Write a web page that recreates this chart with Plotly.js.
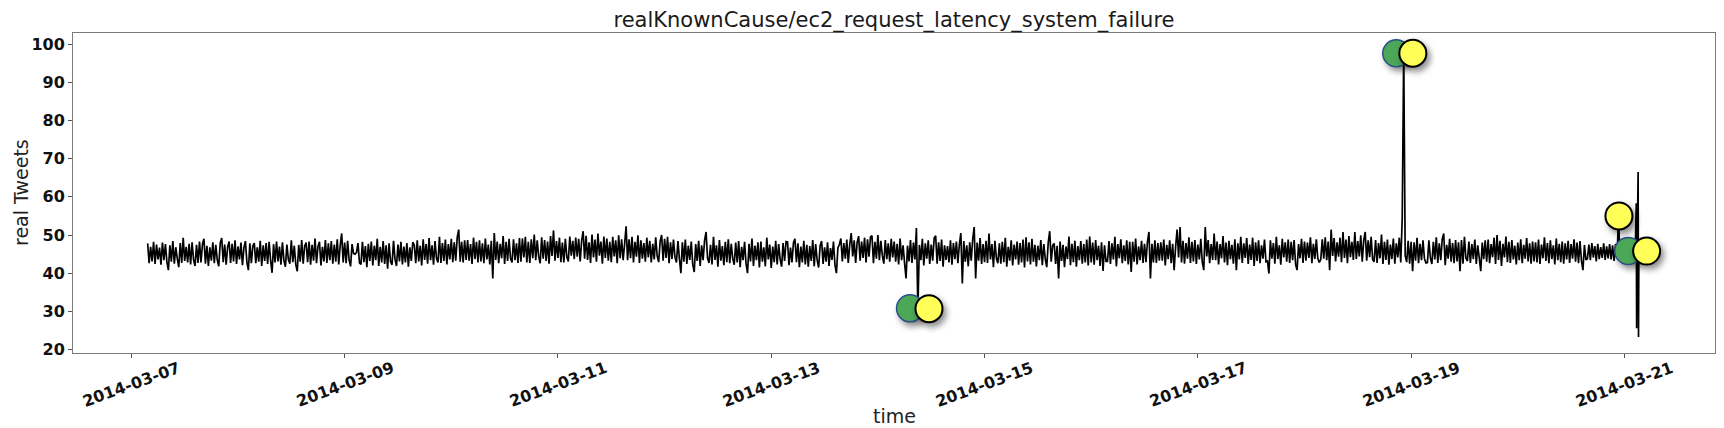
<!DOCTYPE html>
<html>
<head>
<meta charset="utf-8">
<script src="https://cdn.plot.ly/plotly-3.0.1.min.js"></script>
<style>
  html, body { margin: 0; padding: 0; background: #fff; }
  #chart { width: 1724px; height: 428px; }
</style>
</head>
<body>
<div id="chart"></div>
<script>
// ---- data ----
const chartTitle = "realKnownCause/ec2_request_latency_system_failure";
const xTitle = "time";
const yTitle = "real Tweets";

// x tick positions and their labels
const xTickDates  = ["2014-03-07","2014-03-09","2014-03-11","2014-03-13","2014-03-15","2014-03-17","2014-03-19","2014-03-21"];
const xTickLabels = ["2014-03-07","2014-03-09","2014-03-11","2014-03-13","2014-03-15","2014-03-17","2014-03-19","2014-03-21"];

// regular sampling grid of the series (20-minute steps)
const gridStart = "2014-03-07 03:41:00";
const gridStepMinutes = 20;

// latency values, one row per 12 hours
const latency = [
  47.8,42.6,46.9,43.1,48.2,42.4,47.5,43.6,46.7,42.2,48.0,43.4,47.6,42.9,40.8,47.3,43.0,48.4,42.5,46.8,43.8,41.6,47.9,42.7,49.3,43.2,46.9,42.8,47.7,42.3,48.1,43.5,41.9,47.4,42.7,48.3,
  42.8,47.6,49.0,42.5,47.2,41.9,46.8,43.3,48.1,42.6,47.4,43.5,41.8,47.9,49.2,42.9,47.5,42.2,46.9,48.3,42.7,47.7,43.1,48.6,42.4,47.0,43.6,48.0,42.1,46.7,48.4,42.9,40.8,47.8,42.6,47.1,
  47.9,42.6,46.8,43.0,48.5,41.9,47.3,43.2,47.9,42.4,48.2,43.4,40.1,47.6,42.8,48.3,43.1,47.0,42.2,48.1,43.3,41.7,47.5,43.6,42.5,48.6,42.9,47.2,42.3,40.5,47.4,43.0,48.7,42.5,47.1,48.0,
  42.9,48.3,42.2,47.4,43.3,49.1,42.6,47.0,48.2,42.0,46.9,43.1,48.7,42.7,47.8,43.4,48.4,42.5,47.5,43.0,48.9,42.3,47.3,50.4,42.8,48.0,42.6,48.5,43.5,41.8,47.6,45.2,45.0,45.4,47.9,42.7,
  42.3,48.2,42.9,47.1,41.6,47.7,43.2,48.3,42.0,47.2,43.4,49.0,41.9,46.9,42.8,48.4,42.4,47.3,41.2,47.8,43.0,42.2,48.5,43.6,41.9,47.5,43.1,48.2,42.3,47.0,42.8,47.9,41.7,46.8,43.2,48.1,
  47.4,42.6,48.6,43.1,47.2,42.0,48.9,43.5,47.6,42.5,49.2,43.4,47.3,42.2,48.4,43.9,42.8,49.5,42.7,47.9,43.2,48.8,42.3,47.6,43.6,49.0,42.9,48.1,43.3,49.4,51.4,43.0,48.2,42.8,48.6,43.5,
  48.7,43.3,47.6,42.4,49.3,43.7,48.2,42.8,48.6,43.1,47.8,42.6,49.1,43.6,47.5,42.3,48.5,38.6,50.5,43.5,48.3,42.6,47.7,43.9,49.7,42.4,48.2,43.2,49.0,43.8,42.8,48.9,43.4,47.8,42.7,49.2,
  43.0,49.1,44.1,49.5,42.8,48.2,42.7,48.9,43.9,50.1,43.4,48.6,44.4,42.6,49.4,43.8,48.7,43.2,48.3,42.5,49.7,44.5,51.2,43.3,48.4,44.0,49.3,42.9,48.0,42.8,49.0,44.2,43.1,49.6,44.6,48.5,
  43.7,49.3,44.3,49.0,43.1,48.5,51.0,43.8,49.8,43.5,48.1,42.7,50.1,44.1,48.8,43.0,50.4,44.6,48.3,42.5,49.6,44.0,49.1,43.3,48.2,42.9,49.5,44.4,48.6,42.6,49.9,43.9,48.9,43.4,47.6,52.3,
  43.4,48.9,43.9,49.5,42.8,48.2,44.3,49.9,42.7,48.6,43.8,47.9,43.0,49.3,44.1,48.5,42.8,47.7,43.6,49.4,44.5,42.9,48.3,50.0,43.3,49.0,44.0,49.5,42.6,48.1,43.7,48.8,44.2,42.8,48.4,43.8,
  40.0,48.1,43.0,48.8,42.4,47.2,43.5,48.3,42.3,40.3,47.6,43.2,48.5,41.9,47.3,43.4,48.6,50.8,43.9,42.7,47.4,42.3,49.5,43.5,47.3,41.7,48.7,43.3,47.1,42.1,48.2,42.9,48.9,42.6,47.7,43.8,
  42.2,48.0,42.8,48.4,41.6,46.9,43.4,48.2,42.5,40.0,47.7,43.1,49.1,41.9,47.2,43.4,48.1,41.5,48.3,43.0,46.8,41.8,49.3,43.6,47.5,41.4,47.0,42.9,48.5,42.3,47.6,43.7,41.7,47.9,43.2,48.3,
  48.2,42.1,46.7,42.8,48.0,49.0,42.9,47.8,41.6,47.0,42.8,48.5,42.3,47.4,41.7,47.1,43.2,48.7,41.8,47.6,43.4,41.5,47.2,48.4,42.4,46.8,43.0,48.1,41.9,46.6,43.5,48.3,42.2,40.0,46.6,47.5,
  49.1,43.1,47.9,43.8,48.8,42.7,47.5,50.5,44.4,48.6,42.7,48.1,49.7,43.3,48.3,44.0,49.3,42.8,48.9,44.3,49.5,49.8,42.6,48.2,43.8,50.0,43.4,48.5,44.6,42.5,48.7,43.7,47.8,43.0,49.0,44.1,
  48.3,43.0,47.7,42.3,49.1,43.4,47.3,42.7,38.6,47.2,43.1,48.7,42.7,48.0,43.6,51.8,30.7,47.4,43.4,49.0,42.0,47.8,43.8,48.6,42.4,47.5,43.3,49.2,49.8,42.5,48.1,43.2,48.8,41.7,47.3,43.5,
  47.1,42.8,48.6,42.2,47.9,43.7,48.3,42.6,47.5,50.5,37.3,48.4,43.0,47.3,41.8,48.1,43.3,48.9,52.1,38.6,48.0,43.3,49.2,42.4,47.6,42.9,48.5,42.7,50.4,43.6,47.6,41.6,48.5,43.9,42.6,47.8,
  42.5,48.2,42.9,49.3,41.7,46.9,43.3,48.6,42.0,47.5,43.6,48.3,42.2,47.9,42.8,48.8,41.5,49.4,43.1,48.1,42.3,49.0,43.0,47.4,41.8,47.2,43.4,48.7,42.1,47.6,43.7,41.6,48.0,51.0,43.0,47.3,
  47.8,42.4,47.2,38.6,48.3,43.2,47.4,41.6,47.0,43.7,49.6,42.1,47.7,42.9,48.5,41.7,47.1,43.4,48.4,42.5,47.6,42.8,48.8,42.0,49.6,42.8,48.0,42.2,48.7,43.4,47.2,41.9,48.1,40.6,47.3,43.1,
  43.1,48.4,42.4,47.8,43.6,49.5,41.8,47.6,43.9,48.9,42.6,47.3,43.2,48.6,42.3,48.2,40.3,48.2,43.0,49.1,42.3,47.0,43.4,48.5,42.7,47.7,42.9,48.3,50.8,38.6,47.7,42.8,48.6,42.7,47.9,43.3,
  48.1,43.3,48.8,42.0,47.4,43.7,48.6,42.6,47.7,40.8,46.9,51.4,44.1,52.1,42.8,48.5,42.5,47.9,43.8,49.4,42.7,48.2,43.1,48.7,42.4,47.5,43.6,49.0,42.9,40.8,52.1,44.4,48.7,42.6,47.6,43.5,
  50.4,43.4,48.3,42.3,47.6,43.9,49.7,42.8,48.0,42.1,48.5,43.7,47.4,42.5,48.9,40.8,47.8,43.6,49.5,42.7,47.8,44.0,49.2,42.4,47.5,43.5,49.3,41.9,48.1,43.2,48.6,42.6,47.3,43.8,48.8,43.0,
  43.2,39.9,48.6,43.8,47.9,42.5,49.5,43.7,47.3,42.2,49.0,44.1,48.1,43.0,48.8,42.7,48.2,43.4,48.7,42.3,40.8,47.6,43.9,49.0,42.7,48.3,43.3,48.0,44.0,49.4,42.6,47.7,43.7,48.9,43.8,42.8,
  43.6,48.9,43.8,49.4,43.4,48.3,40.8,51.4,44.5,49.2,43.1,48.1,44.3,49.3,42.9,50.8,44.0,48.8,42.6,49.7,44.2,48.2,43.5,50.8,43.7,48.4,44.4,49.9,43.0,48.6,50.8,43.3,48.6,44.2,49.5,43.6,
  43.0,48.7,42.7,47.9,43.9,50.1,42.4,48.2,43.5,48.8,42.2,47.5,43.7,49.1,42.5,47.8,44.1,49.3,42.8,54.5,98.5,44.6,42.9,48.5,42.5,48.2,40.5,48.1,43.3,49.3,42.6,47.7,43.4,48.6,43.8,42.7,
  42.8,48.6,44.0,42.4,48.2,43.6,49.4,42.7,47.8,43.4,48.9,50.4,42.1,47.4,43.8,49.0,43.0,47.9,42.6,48.7,43.1,48.1,40.5,48.7,42.5,49.5,43.9,43.2,48.3,42.7,47.6,43.7,48.8,42.4,47.3,44.0,
  40.5,48.0,43.7,48.6,43.0,48.8,42.6,47.6,44.2,49.3,42.4,50.0,43.5,48.5,41.9,47.7,44.1,49.6,42.9,48.2,42.7,48.7,43.6,47.2,42.3,48.0,43.4,48.9,42.6,47.4,43.8,49.2,43.1,47.8,42.5,48.3,
  43.1,48.1,42.8,48.8,42.4,47.5,43.9,49.4,43.2,47.9,42.6,48.6,43.7,47.3,42.3,49.1,43.4,47.7,42.9,48.3,42.5,47.8,43.6,48.5,42.7,47.6,43.8,48.9,43.0,48.0,42.6,48.4,43.3,40.8,47.4,43.5,
  43.8,47.5,43.4,47.9,44.1,47.1,43.1,47.7,43.7,46.8,44.0,47.8,43.5,47.0,43.9,47.6,43.6,47.3,43.2,47.7,44.0,55.0,43.9,46.6,44.4,46.8,44.1,46.4,44.5,46.9,44.2,45.5
];

// last minutes of the series (failure burst)
const tailTimes = ["2014-03-21 02:26","2014-03-21 02:41","2014-03-21 02:46","2014-03-21 02:51","2014-03-21 03:06",
                   "2014-03-21 03:11","2014-03-21 03:16","2014-03-21 03:26","2014-03-21 03:36"];
const tailValues = [45.0, 58.3, 25.6, 44.0, 66.5, 23.3, 46.0, 45.5, 45.8];

// anomaly markers
const labelTimes  = ["2014-03-14 07:15","2014-03-18 20:40","2014-03-21 00:52"];
const labelValues = [30.8, 97.6, 45.8];
const detectTimes  = ["2014-03-14 11:31","2014-03-19 00:24","2014-03-20 22:47","2014-03-21 05:01"];
const detectValues = [30.7, 97.6, 55.0, 45.8];

// axis extents
const xRange = ["2014-03-06 10:53", "2014-03-21 20:24"];
const yRange = [19.1, 102.9];

// ---- build time axis for the grid ----
function fmt(ms) { return new Date(ms).toISOString().slice(0, 19).replace("T", " "); }
const t0 = Date.parse(gridStart.replace(" ", "T") + "Z");
const gridTimes = latency.map((_, i) => fmt(t0 + i * gridStepMinutes * 60000));
const allTimes = gridTimes.concat(tailTimes);
const allValues = latency.concat(tailValues);

const font = "DejaVu Sans, Liberation Sans, sans-serif";

const traces = [
  { x: allTimes, y: allValues, type: "scatter", mode: "lines",
    line: { color: "#000000", width: 1.7, simplify: false }, hoverinfo: "skip", showlegend: false },
  { x: labelTimes, y: labelValues, type: "scatter", mode: "markers",
    marker: { size: 27, color: "#4ca856", line: { color: "#2d4d8c", width: 1.5 } }, showlegend: false },
  { x: detectTimes, y: detectValues, type: "scatter", mode: "markers",
    marker: { size: 27, color: "#ffff57", line: { color: "#000000", width: 2 } }, showlegend: false }
];

const tickLabelAnnotations = xTickDates.map((d, i) => ({
  text: xTickLabels[i], x: d, xref: "x", y: 0, yref: "paper", yshift: -31,
  xanchor: "center", yanchor: "middle", textangle: -20, showarrow: false,
  font: { family: font, size: 16, color: "#111", weight: "bold" }
}));

const layout = {
  width: 1724, height: 428,
  paper_bgcolor: "#ffffff", plot_bgcolor: "#ffffff",
  margin: { l: 73, r: 9, t: 33, b: 75, pad: 0 },
  showlegend: false,
  title: { text: chartTitle, x: 0.5, xref: "paper", xanchor: "center",
           y: 1 - 20 / 428, yref: "container", yanchor: "middle",
           font: { family: font, size: 21, color: "#1a1a1a" } },
  xaxis: {
    type: "date", range: xRange, autorange: false,
    tickmode: "array", tickvals: xTickDates, showticklabels: false,
    ticks: "outside", ticklen: 4, tickwidth: 1, tickcolor: "#555",
    showline: true, mirror: true, linecolor: "#7a7a7a", linewidth: 1,
    showgrid: false, zeroline: false, automargin: false
  },
  yaxis: {
    range: yRange, autorange: false, tick0: 20, dtick: 10,
    ticks: "outside", ticklen: 4, tickwidth: 1, tickcolor: "#555",
    tickfont: { family: font, size: 16, color: "#111", weight: "bold" },
    showline: true, mirror: true, linecolor: "#7a7a7a", linewidth: 1,
    showgrid: false, zeroline: false, automargin: false
  },
  annotations: tickLabelAnnotations.concat([
    { text: xTitle, xref: "paper", yref: "paper", x: 0.5, y: 0, yshift: -63,
      xanchor: "center", yanchor: "middle", showarrow: false,
      font: { family: font, size: 19, color: "#222" } },
    { text: yTitle, xref: "paper", yref: "paper", x: 0, y: 0.5, xshift: -52,
      xanchor: "center", yanchor: "middle", textangle: -90, showarrow: false,
      font: { family: font, size: 19, color: "#222" } }
  ])
};

Plotly.newPlot("chart", traces, layout, { staticPlot: true }).then(function () {
  const tr = document.querySelectorAll("#chart .scatterlayer .trace");
  [1, 2].forEach(function (k) {
    if (tr[k]) {
      tr[k].querySelectorAll("path.point").forEach(function (p) {
        p.style.filter = "drop-shadow(3px 4px 3px rgba(0,0,0,0.45))";
      });
    }
  });
});
</script>
</body>
</html>
